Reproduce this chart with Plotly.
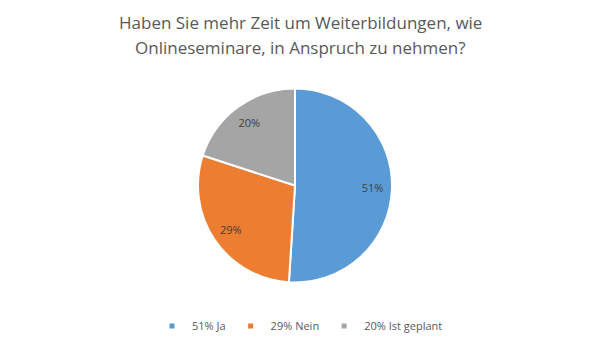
import plotly.graph_objects as go

categories = ["51% Ja", "29% Nein", "20% Ist geplant"]
values = [51, 29, 20]
colors = ["#5B9BD5", "#ED7D31", "#A5A5A5"]
title_lines = ["Haben Sie mehr Zeit um Weiterbildungen, wie",
               "Onlineseminare, in Anspruch zu nehmen?"]

W, H = 600, 345
cx, cy, r = 295, 185.5, 97
dom = dict(x=[(cx - r) / W, (cx + r) / W], y=[1 - (cy + r) / H, 1 - (cy - r) / H])

fig = go.Figure()
# filled pie (no text)
fig.add_trace(go.Pie(
    labels=categories, values=values, sort=False, direction="clockwise", rotation=0,
    marker=dict(colors=colors, line=dict(color="white", width=2)),
    textinfo="none", domain=dom, showlegend=False, hoverinfo="label+percent",
))
# transparent ring carrying the data labels at ~0.8 r
fig.add_trace(go.Pie(
    labels=categories, values=values, sort=False, direction="clockwise", rotation=0,
    hole=0.6,
    marker=dict(colors=["rgba(0,0,0,0)"] * 3, line=dict(width=0)),
    texttemplate="%{percent:.0%}", textposition="inside",
    insidetextorientation="horizontal",
    textfont=dict(family="Open Sans", size=11, color="#404040"),
    domain=dom, showlegend=False, hoverinfo="skip",
))
# legend proxies with small square markers
for name, col in zip(categories, colors):
    fig.add_trace(go.Scatter(x=[None], y=[None], mode="markers", name=name,
                             marker=dict(symbol="square", size=5, color=col)))

for i, line in enumerate(title_lines):
    fig.add_annotation(text=line, x=0.5, xref="paper", xanchor="center",
                       y=1 - (22 + 26 * i) / H, yref="paper", yanchor="middle",
                       showarrow=False,
                       font=dict(family="Open Sans", size=17, color="#595959"))

fig.update_layout(
    width=W, height=H,
    margin=dict(l=0, r=0, t=0, b=0),
    paper_bgcolor="white", plot_bgcolor="white",
    xaxis=dict(visible=False), yaxis=dict(visible=False),
    legend=dict(orientation="h", x=0.5, xanchor="center", y=1 - 326 / H, yanchor="middle",
                font=dict(family="Open Sans", size=11, color="#595959"),
                itemwidth=30, itemsizing="trace",
                itemclick=False, itemdoubleclick=False),
    showlegend=True,
)

fig.write_html("out.html")
